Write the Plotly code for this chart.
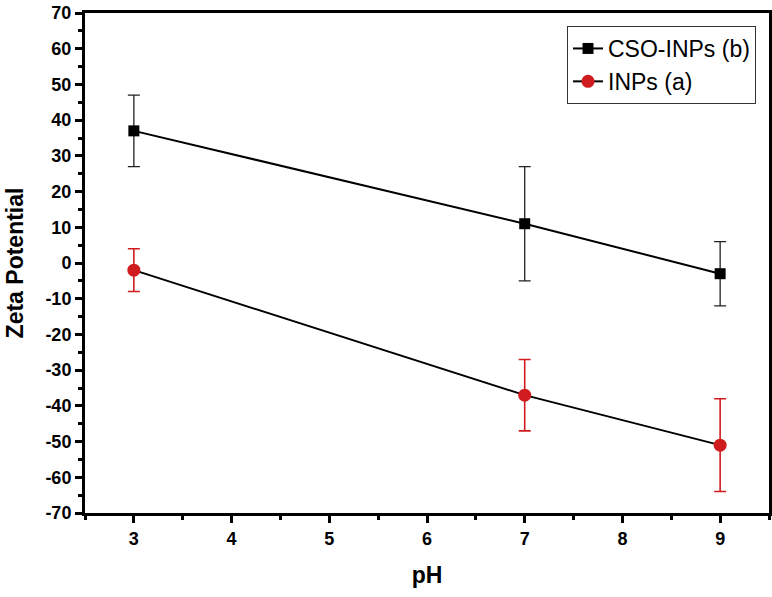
import plotly.graph_objects as go

ph = [3, 7, 9]
cso_inps = [37, 11, -3]
cso_err = [10, 16, 9]
inps = [-2, -37, -51]
inps_err = [6, 10, 13]

x_ticks = [3, 4, 5, 6, 7, 8, 9]
y_ticks = list(range(-70, 71, 10))

RED = "#d01c1f"
FONT = "Liberation Sans, Arial, sans-serif"

fig = go.Figure()
fig.add_trace(go.Scatter(
    x=ph, y=cso_inps, name="CSO-INPs (b)", mode="lines+markers",
    line=dict(color="black", width=2),
    marker=dict(symbol="square", size=11, color="black"),
    error_y=dict(type="data", array=cso_err, visible=True, color="#222222",
                 thickness=1.3, width=6),
))
fig.add_trace(go.Scatter(
    x=ph, y=inps, name="INPs (a)", mode="lines+markers",
    line=dict(color="black", width=2),
    marker=dict(symbol="circle", size=13, color=RED),
    error_y=dict(type="data", array=inps_err, visible=True, color=RED,
                 thickness=1.6, width=6),
))

axis_common = dict(
    showgrid=False, zeroline=False, showline=True, linecolor="black",
    linewidth=3, mirror=True, ticks="outside", ticklen=7, tickwidth=3,
    tickcolor="black", automargin=False,
    tickfont=dict(family=FONT, size=18, color="black", weight="bold"),
)

fig.update_xaxes(
    range=[2.5, 9.5], tickvals=x_ticks, ticktext=[f"<b>{v}</b>" for v in x_ticks],
    minor=dict(dtick=0.5, ticks="outside", ticklen=4, tickwidth=3, tickcolor="black"),
    title=dict(text="<b>pH</b>", font=dict(family=FONT, size=23, color="black"), standoff=20),
    **axis_common,
)
fig.update_yaxes(
    range=[-70, 70], tickvals=y_ticks, ticktext=[f"<b>{v}</b>" for v in y_ticks],
    minor=dict(dtick=5, ticks="outside", ticklen=4, tickwidth=3, tickcolor="black"),
    title=dict(text="<b>Zeta Potential</b>", font=dict(family=FONT, size=23, color="black"), standoff=16),
    **axis_common,
)

fig.update_layout(
    width=772, height=597,
    margin=dict(l=85, r=3, t=13, b=84),
    plot_bgcolor="white", paper_bgcolor="white",
    showlegend=True,
    legend=dict(
        x=0.981, y=0.974, xanchor="right", yanchor="top",
        bordercolor="#333333", borderwidth=1, bgcolor="white",
        font=dict(family=FONT, size=23, color="black"),
        tracegroupgap=0, itemwidth=30,
    ),
)

fig.write_html(
    "out.html",
    config={"displayModeBar": False},
    post_script="document.body.style.margin='0';document.body.style.overflow='hidden';",
)
